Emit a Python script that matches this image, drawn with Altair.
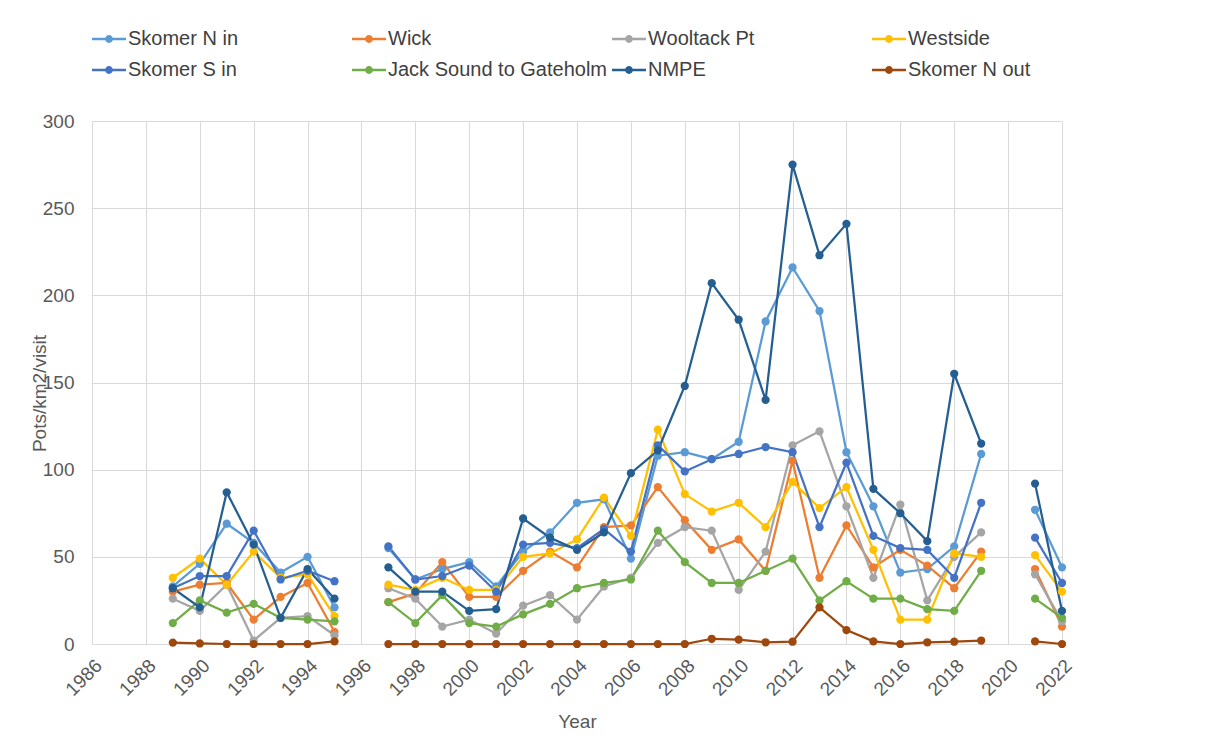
import altair as alt
import pandas as pd

years = list(range(1989, 2023))
series_names = ["Skomer N in", "Wick", "Wooltack Pt", "Westside",
                "Skomer S in", "Jack Sound to Gateholm", "NMPE", "Skomer N out"]
colors = ["#5B9BD5", "#ED7D31", "#A5A5A5", "#FFC000",
          "#4472C4", "#70AD47", "#255E91", "#9E480E"]

# values 1989..2022 (None = no survey: 1996, 2020)
skomer_n_in = [33, 46, 69, 58, 41, 50, 21, None,
               55, 37, 43, 47, 33, 53, 64, 81, 83, 49, 108, 110, 106, 116, 185, 216, 191, 110, 79, 41, 43, 56, 109,
               None, 77, 44]
wick = [30, 34, 35, 14, 27, 35, 7, None,
        24, 29, 47, 27, 27, 42, 53, 44, 67, 68, 90, 71, 54, 60, 42, 105, 38, 68, 44, 54, 45, 32, 53,
        None, 43, 10]
wooltack_pt = [26, 19, 34, 2, 15, 16, 5, None,
               32, 26, 10, 14, 6, 22, 28, 14, 33, 38, 58, 67, 65, 31, 53, 114, 122, 79, 38, 80, 25, 50, 64,
               None, 40, 13]
westside = [38, 49, 34, 53, 38, 40, 16, None,
            34, 31, 38, 31, 31, 50, 52, 60, 84, 62, 123, 86, 76, 81, 67, 93, 78, 90, 54, 14, 14, 52, 50,
            None, 51, 30]
skomer_s_in = [32, 39, 39, 65, 37, 42, 36, None,
               56, 37, 39, 45, 30, 57, 58, 55, 66, 53, 114, 99, 106, 109, 113, 110, 67, 104, 62, 55, 54, 38, 81,
               None, 61, 35]
jack_sound = [12, 25, 18, 23, 15, 14, 13, None,
              24, 12, 28, 12, 10, 17, 23, 32, 35, 37, 65, 47, 35, 35, 42, 49, 25, 36, 26, 26, 20, 19, 42,
              None, 26, 15]
nmpe = [32, 21, 87, 57, 15, 43, 26, None,
        44, 30, 30, 19, 20, 72, 61, 54, 64, 98, 111, 148, 207, 186, 140, 275, 223, 241, 89, 75, 59, 155, 115,
        None, 92, 19]
skomer_n_out = [0.8, 0.3, 0, 0, 0, 0, 1.5, None,
                0, 0, 0, 0, 0, 0, 0, 0, 0, 0, 0, 0, 3, 2.5, 1, 1.3, 21, 8, 1.5, 0, 1, 1.3, 2,
                None, 1.5, 0]

x_ticks = list(range(1986, 2023, 2))
y_ticks = [0, 50, 100, 150, 200, 250, 300]

all_values = [skomer_n_in, wick, wooltack_pt, westside, skomer_s_in, jack_sound, nmpe, skomer_n_out]
rows = []
for order, (name, vals) in enumerate(zip(series_names, all_values)):
    seg = 0
    for yr, v in zip(years, vals):
        if v is None:
            seg += 1
            continue
        rows.append({"year": yr, "value": v, "series": name, "seg": f"{name}-{seg}", "order": order})
df = pd.DataFrame(rows)

FONT = "Liberation Sans"
TXT = "#595959"
GRID = "#D9D9D9"

legend_shape = ("M-1,-0.075H1V0.075H-1Z "
                "M-0.23,0A0.23,0.23,0,1,1,0.23,0A0.23,0.23,0,1,1,-0.23,0Z")

color = alt.Color(
    "series:N",
    scale=alt.Scale(domain=series_names, range=colors),
    legend=alt.Legend(
        title=None, orient="top", columns=4, direction="horizontal",
        symbolType=legend_shape, symbolSize=1156, symbolStrokeWidth=0,
        symbolOpacity=1,
        labelFontSize=20, labelFont=FONT, labelColor="#404040",
        labelOffset=2, gridAlign="all", columnPadding=4, rowPadding=4,
        offset=41, labelLimit=400,
    ),
)

x = alt.X("year:Q",
          scale=alt.Scale(domain=[1986, 2022], nice=False, zero=False),
          axis=alt.Axis(values=x_ticks, format="d", labelAngle=-45, title="Year",
                        grid=True, gridColor=GRID, domainColor=GRID, ticks=False,
                        labelFontSize=19, labelFont=FONT, labelColor=TXT, labelPadding=12,
                        titleFontSize=19, titleFont=FONT, titleColor=TXT, titleFontWeight="normal",
                        titlePadding=13))
y = alt.Y("value:Q",
          scale=alt.Scale(domain=[0, 300], nice=False),
          axis=alt.Axis(values=y_ticks, title="Pots/km2/visit",
                        grid=True, gridColor=GRID, domainColor=GRID, ticks=False,
                        labelFontSize=19, labelFont=FONT, labelColor=TXT, labelPadding=18,
                        titleFontSize=19, titleFont=FONT, titleColor=TXT, titleFontWeight="normal",
                        titlePadding=-7, titleY=272))

base = alt.Chart(df)
lines = base.mark_line(strokeWidth=2.25).encode(
    x=x, y=y, color=color, detail="seg:N", order="year:Q")
points = base.mark_point(filled=True, size=68, opacity=1).encode(
    x=x, y=y, color=color, order="order:Q")

chart = alt.layer(lines, points).properties(
    width=970, height=523,
    padding={"left": 22, "top": 14, "right": 10, "bottom": 4},
    background="white",
).configure_view(stroke=None)

chart.save("out.html", embed_options={"renderer": "svg", "actions": False})
